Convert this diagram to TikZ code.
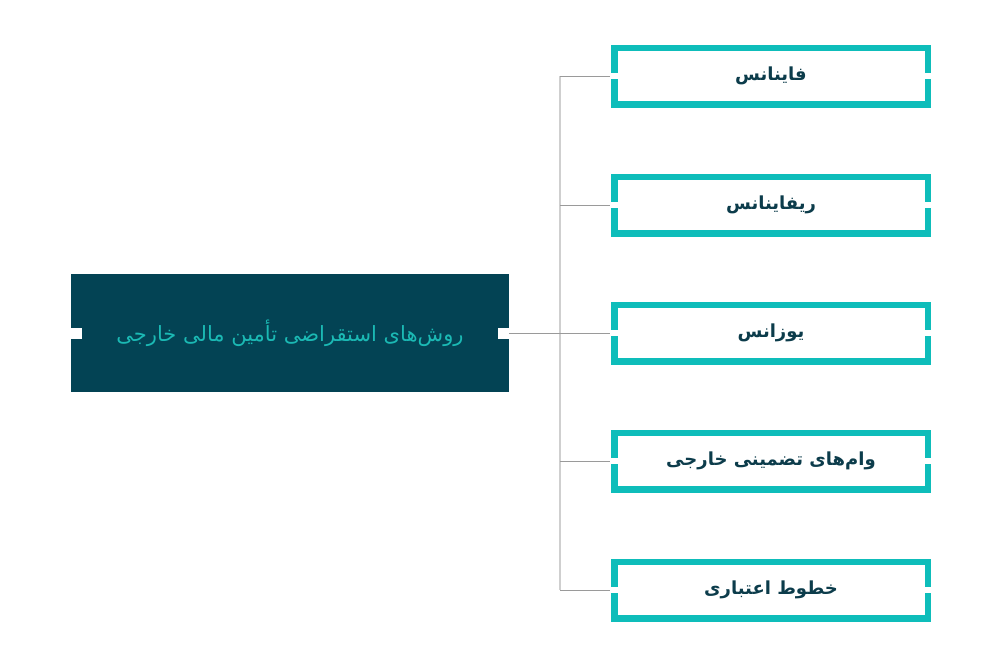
\documentclass[tikz,border=0pt]{standalone}
\usepackage{fontspec}
\newfontfamily\arabicfont[Script=Arabic]{DejaVu Sans}
\TeXXeTstate=1
\definecolor{tealb}{HTML}{0EBDBA}
\definecolor{darkbox}{HTML}{034354}
\definecolor{lighttext}{HTML}{1BB9B4}
\definecolor{darktext}{HTML}{0C3C4B}
\definecolor{lineh}{HTML}{9A9A9A}
\definecolor{linev}{HTML}{CFCFCF}
\begin{document}
\begin{tikzpicture}[x=1pt,y=-1pt,
  rbox/.style={draw=tealb,line width=6.5pt,fill=white,minimum width=313.5pt,minimum height=56.5pt,inner sep=0pt,
    font=\arabicfont\bfseries\fontsize{18}{21}\selectfont,text=darktext},
  lbox/.style={fill=darkbox,minimum width=438pt,minimum height=118pt,inner sep=0pt,
    font=\arabicfont\fontsize{21}{24}\selectfont,text=lighttext},
  hline/.style={draw=lineh,line width=1pt},
  vline/.style={draw=linev,line width=1.2pt},
  gapfill/.style={fill=white}]
\useasboundingbox (0,0) rectangle (1002,667);
\coordinate (t) at (560,0);
% nodes
\node[lbox] (L) at (290,333) {\beginR روش‌های استقراضی تأمین مالی خارجی\endR};
\node[rbox] (b1) at (771,76) {\beginR فاینانس\endR};
\node[rbox] (b2) at (771,205) {\beginR ریفاینانس\endR};
\node[rbox] (b3) at (771,333) {\beginR یوزانس\endR};
\node[rbox] (b4) at (771,461) {\beginR وام‌های تضمینی خارجی\endR};
\node[rbox] (b5) at (771,590) {\beginR خطوط اعتباری\endR};
% connectors
\draw[vline] (t |- b1.west) -- (t |- b5.west);
\draw[hline] (L.east) -- (b3.west);
\foreach \b in {b1,b2,b4,b5}{
  \draw[hline] (t |- \b.west) -- (\b.west);
}
% border gaps
\foreach \b in {b1,b2,b3,b4,b5}{
  \fill[gapfill] ([xshift=-1pt,yshift=-3pt]\b.west) rectangle ([xshift=7pt,yshift=3pt]\b.west);
  \fill[gapfill] ([xshift=-7pt,yshift=-3pt]\b.east) rectangle ([xshift=1pt,yshift=3pt]\b.east);
}
% ports on left box
\fill[white] ([yshift=-5.5pt]L.west) rectangle ([xshift=11pt,yshift=5.5pt]L.west);
\fill[white] ([xshift=-11pt,yshift=-5.5pt]L.east) rectangle ([yshift=5.5pt]L.east);
\end{tikzpicture}
\end{document}
